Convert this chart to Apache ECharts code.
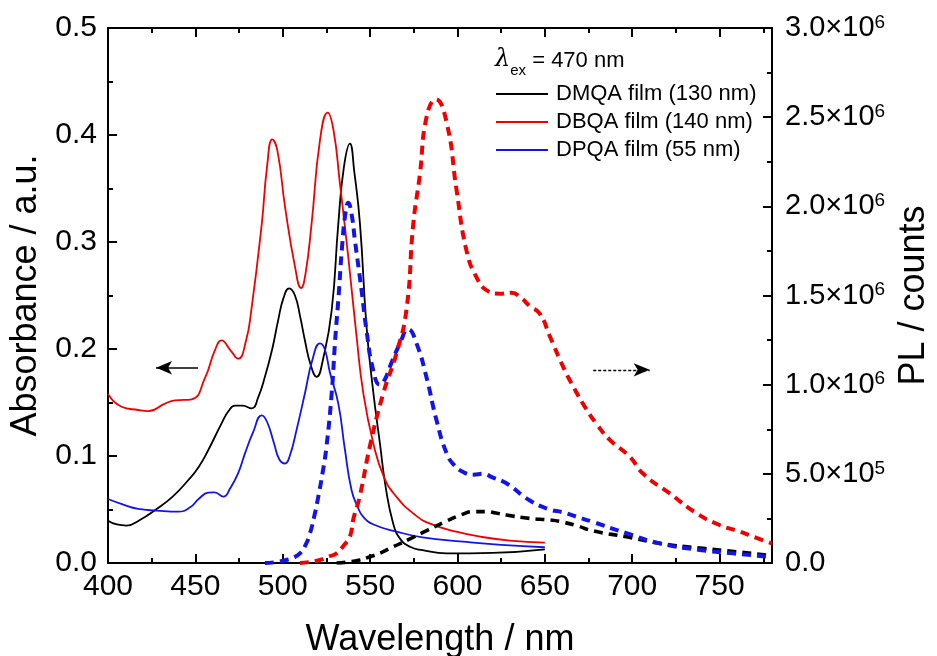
<!DOCTYPE html>
<html>
<head>
<meta charset="utf-8">
<script src="https://cdn.jsdelivr.net/npm/echarts@6/dist/echarts.min.js"></script>
<style>
  html, body { margin: 0; padding: 0; background: #fff; }
  #chart { width: 937px; height: 656px; }
</style>
</head>
<body>
<div id="chart"></div>
<script>
// Absorption spectra of the films (left axis, a.u.)
const dmqaAbsNm = [400, 405, 410.7, 418, 427, 437, 446, 452, 457.4, 465, 469, 472.7, 477, 482.2, 486, 489.8, 494, 497.4, 500.5, 503.7, 507, 510, 512.7, 516, 519.4, 523, 528, 531.8, 535, 538.4, 541, 544.2, 548, 551.8, 555.6, 559, 563.2, 567, 572.8, 580, 593.8, 620, 650];
const dmqaAbs   = [0.0395, 0.036, 0.035, 0.040, 0.0495, 0.062, 0.0776, 0.090, 0.1056, 0.1305, 0.142, 0.147, 0.147, 0.1445, 0.155, 0.174, 0.200, 0.227, 0.248, 0.2567, 0.250, 0.230, 0.208, 0.185, 0.174, 0.190, 0.236, 0.317, 0.370, 0.392, 0.365, 0.317, 0.220, 0.160, 0.112, 0.070, 0.037, 0.023, 0.0152, 0.012, 0.009, 0.0095, 0.0128];

const dbqaAbsNm = [400, 407.8, 417.3, 423, 432.6, 438.3, 447.9, 455.5, 461.2, 465, 470, 474.5, 479, 482, 488, 491, 494, 497, 501.3, 507, 510.5, 513, 516.5, 521.3, 525.7, 529, 532.7, 537.5, 542.3, 546, 551.8, 558, 565, 575, 584, 600, 613, 630, 650];
const dbqaAbs   = [0.158, 0.146, 0.143, 0.142, 0.149, 0.152, 0.153, 0.173, 0.199, 0.208, 0.199, 0.191, 0.208, 0.236, 0.317, 0.370, 0.396, 0.385, 0.333, 0.277, 0.257, 0.270, 0.317, 0.395, 0.421, 0.405, 0.355, 0.286, 0.211, 0.160, 0.112, 0.080, 0.062, 0.046, 0.037, 0.029, 0.0246, 0.021, 0.019];

const dpqaAbsNm = [400, 408, 417.3, 428, 440.2, 447, 452, 457.4, 461, 466, 470, 474.5, 478.4, 483, 488, 491, 495, 498, 501.3, 504, 508, 512.7, 517, 521.3, 524, 527, 531.8, 535.5, 539.4, 543, 546, 552, 565.2, 580, 603.3, 625, 650];
const dpqaAbs   = [0.0598, 0.055, 0.0505, 0.049, 0.048, 0.052, 0.060, 0.0657, 0.066, 0.062, 0.070, 0.084, 0.1025, 0.122, 0.138, 0.132, 0.112, 0.097, 0.093, 0.100, 0.125, 0.1586, 0.190, 0.2053, 0.200, 0.178, 0.149, 0.107, 0.068, 0.052, 0.0433, 0.036, 0.0293, 0.024, 0.020, 0.017, 0.0147];

// Photoluminescence spectra, excitation at 470 nm (right axis, counts)
const dmqaPlNm = [530.8, 537, 544, 550, 555.6, 563, 572.8, 583, 593.8, 602, 609, 616.6, 622, 628, 641.4, 652.9, 660, 668, 677.6, 696.7, 715.8, 740.5, 759.6, 776.8, 780];
const dmqaPl   = [0, 5e3, 1.7e4, 3.5e4, 5.5e4, 9e4, 1.35e5, 1.85e5, 2.35e5, 2.7e5, 2.88e5, 2.88e5, 2.8e5, 2.69e5, 2.5e5, 2.41e5, 2.3e5, 2.1e5, 1.8e5, 1.47e5, 1.1e5, 8.2e4, 6.3e4, 4.5e4, 4.2e4];

const dbqaPlNm = [509.8, 515, 521.3, 526, 530.8, 535, 538.4, 540.5, 544, 550, 557.5, 565.2, 570.8, 574.7, 578.5, 582.3, 587.6, 593.8, 599.5, 605.2, 611, 616.6, 624.3, 631, 636, 641.4, 647, 652.9, 660.5, 666.2, 673.9, 679.6, 687.2, 698.6, 706.3, 721.5, 736.8, 750, 761.6, 770, 780];
const dbqaPl   = [0, 5e3, 1.7e4, 3.5e4, 5.4e4, 1.0e5, 1.47e5, 2.5e5, 3.7e5, 6.6e5, 9.5e5, 1.18e6, 1.42e6, 1.9e6, 2.18e6, 2.5e6, 2.6e6, 2.47e6, 2.09e6, 1.75e6, 1.6e6, 1.53e6, 1.51e6, 1.515e6, 1.49e6, 1.44e6, 1.4e6, 1.27e6, 1.1e6, 9.9e5, 8.6e5, 7.8e5, 6.9e5, 5.96e5, 5.0e5, 3.9e5, 2.79e5, 2.13e5, 1.76e5, 1.45e5, 1.1e5];

const dpqaPlNm = [489.8, 496, 502, 506, 509.8, 513, 515.6, 518, 520.3, 522.7, 525, 528, 530, 532, 534, 536, 537.5, 539.5, 541.3, 545.1, 548, 551.8, 555.6, 558.5, 561.3, 567, 571.8, 576.6, 582.3, 588, 593.8, 598, 603.3, 609, 614.7, 620, 628, 641.4, 652.9, 660, 668, 677.6, 696.7, 715.8, 738.7, 757.7, 780];
const dpqaPl   = [0, 5e3, 1.7e4, 3e4, 5.4e4, 1.0e5, 1.67e5, 2.6e5, 3.7e5, 5.0e5, 6.5e5, 9.5e5, 1.25e6, 1.5e6, 1.78e6, 1.97e6, 2.02e6, 1.95e6, 1.81e6, 1.53e6, 1.3e6, 1.08e6, 1.0e6, 1.03e6, 1.1e6, 1.23e6, 1.31e6, 1.23e6, 1.04e6, 8.0e5, 6.15e5, 5.5e5, 5.1e5, 4.95e5, 5.0e5, 4.8e5, 4.47e5, 3.5e5, 3.0e5, 2.85e5, 2.6e5, 2.3e5, 1.67e5, 1.1e5, 7.3e4, 5.4e4, 3.3e4];

// Axis ticks
const xMajorTicks = [400, 450, 500, 550, 600, 650, 700, 750];
const xMinorTicks = [425, 475, 525, 575, 625, 675, 725, 775];

const seriesNames = ['DMQA film (130 nm)', 'DBQA film (140 nm)', 'DPQA film (55 nm)'];
const excitationText = '= 470 nm';

const RED = '#f00000';
const BLUE = '#1414e6';
const BLACK = '#000000';
const FONT = 'Liberation Sans, Arial, sans-serif';
const SMOOTH = 0.5;

function zip(xs, ys) { return xs.map((x, i) => [x, ys[i]]); }

function plLabel(v) {
  if (v === 0) return '{b|0.0}';
  const exp = Math.floor(Math.log10(v) + 1e-9);
  const mant = (v / Math.pow(10, exp)).toFixed(1);
  return '{b|' + mant + '×10}{s|' + exp + '}';
}

const axisLineStyle = { color: '#000', width: 2 };

function xAxisBase(pos, showLabels) {
  return {
    type: 'value', position: pos, min: 400, max: 780, interval: 50,
    axisLine: { show: true, onZero: false, lineStyle: axisLineStyle },
    axisTick: { show: true, inside: true, length: 9, lineStyle: { width: 2, color: '#000' }, customValues: xMajorTicks },
    minorTick: { show: false },
    splitLine: { show: false },
    axisLabel: { show: showLabels, margin: 9, fontSize: 30, color: '#000', fontFamily: FONT, customValues: xMajorTicks }
  };
}
function xAxisMinor(pos) {
  return {
    type: 'value', position: pos, min: 400, max: 780, interval: 50,
    axisLine: { show: false, onZero: false },
    axisTick: { show: true, inside: true, length: 5, lineStyle: { width: 2, color: '#000' }, customValues: xMinorTicks },
    splitLine: { show: false },
    axisLabel: { show: false }
  };
}

const xBottom = xAxisBase('bottom', true);
xBottom.name = 'Wavelength / nm';
xBottom.nameLocation = 'middle';
xBottom.nameGap = 59;
xBottom.nameTextStyle = { fontSize: 36, color: '#000', fontFamily: FONT };

function absSeries(name, xs, ys, color, extra) {
  return Object.assign({
    name: name, type: 'line', xAxisIndex: 0, yAxisIndex: 0,
    data: zip(xs, ys), showSymbol: false, symbol: 'none', smooth: SMOOTH,
    lineStyle: { color: color, width: 1.8 }, itemStyle: { color: color }
  }, extra || {});
}
function plSeries(name, xs, ys, color, width) {
  return {
    name: name, type: 'line', xAxisIndex: 0, yAxisIndex: 1,
    data: zip(xs, ys), showSymbol: false, symbol: 'none', smooth: SMOOTH,
    lineStyle: { color: color, width: width, type: [9, 6] }, itemStyle: { color: color }
  };
}

const chart = echarts.init(document.getElementById('chart'), null, { renderer: 'canvas' });

chart.setOption({
  animation: false,
  backgroundColor: '#fff',
  grid: { left: 108, right: 165, top: 28, bottom: 93, containLabel: false, outerBoundsMode: 'none' },
  xAxis: [xBottom, xAxisBase('top', false), xAxisMinor('bottom'), xAxisMinor('top')],
  yAxis: [
    {
      type: 'value', position: 'left', min: 0, max: 0.5, interval: 0.1,
      name: 'Absorbance / a.u.', nameLocation: 'middle', nameGap: 60, nameRotate: 90,
      nameTextStyle: { fontSize: 36, color: '#000', fontFamily: FONT },
      axisLine: { show: true, onZero: false, lineStyle: axisLineStyle },
      axisTick: { show: true, inside: true, length: 9, lineStyle: { width: 2, color: '#000' } },
      minorTick: { show: true, splitNumber: 2, length: 5, lineStyle: { width: 2, color: '#000' } },
      splitLine: { show: false }, minorSplitLine: { show: false },
      axisLabel: { margin: 11, fontSize: 30, color: '#000', fontFamily: FONT, formatter: v => v.toFixed(1) }
    },
    {
      type: 'value', position: 'right', min: 0, max: 3e6, interval: 5e5,
      name: 'PL / counts', nameLocation: 'middle', nameGap: 122, nameRotate: 90,
      nameTextStyle: { fontSize: 36, color: '#000', fontFamily: FONT },
      axisLine: { show: true, onZero: false, lineStyle: axisLineStyle },
      axisTick: { show: true, inside: true, length: 9, lineStyle: { width: 2, color: '#000' } },
      minorTick: { show: true, splitNumber: 2, length: 5, lineStyle: { width: 2, color: '#000' } },
      splitLine: { show: false }, minorSplitLine: { show: false },
      axisLabel: {
        margin: 13, color: '#000', fontFamily: FONT, formatter: plLabel,
        rich: {
          b: { fontSize: 29, fontFamily: FONT, color: '#000', lineHeight: 30 },
          s: { fontSize: 19, fontFamily: FONT, color: '#000', lineHeight: 30, verticalAlign: 'top' }
        }
      }
    }
  ],
  legend: {
    data: seriesNames,
    orient: 'vertical', left: 496, top: 82, padding: 0,
    itemWidth: 52, itemHeight: 2, itemGap: 4,
    icon: 'rect',
    textStyle: { fontSize: 22, lineHeight: 24, color: '#000', fontFamily: FONT, padding: [0, 0, 0, 3] },
    selectedMode: false
  },
  graphic: [
    {
      type: 'text', left: 495, top: 48,
      style: {
        text: '{l|λ}{sub|ex}{t| ' + excitationText + '}',
        rich: {
          l: { fontSize: 24, fontStyle: 'italic', fontFamily: 'DejaVu Serif, serif', fill: '#000', lineHeight: 30, verticalAlign: 'bottom' },
          sub: { fontSize: 15, fontFamily: FONT, fill: '#000', lineHeight: 30, verticalAlign: 'bottom', padding: [0, 0, -6, 0] },
          t: { fontSize: 22, fontFamily: FONT, fill: '#000', lineHeight: 30, verticalAlign: 'bottom' }
        }
      }
    }
  ],
  series: [
    absSeries(seriesNames[0], dmqaAbsNm, dmqaAbs, BLACK, {
      markLine: {
        silent: true, symbol: ['arrow', 'none'], symbolSize: [10, 16],
        label: { show: false },
        lineStyle: { color: '#000', width: 1.6, type: 'solid' },
        data: [[{ coord: [427.5, 0.1825] }, { coord: [451.5, 0.1825] }]]
      }
    }),
    absSeries(seriesNames[1], dbqaAbsNm, dbqaAbs, RED, {
      markLine: {
        silent: true, symbol: ['none', 'arrow'], symbolSize: [10, 16],
        label: { show: false },
        lineStyle: { color: '#000', width: 1.4, type: [3, 2] },
        data: [[{ coord: [677.7, 0.1805] }, { coord: [710, 0.1805] }]]
      }
    }),
    absSeries(seriesNames[2], dpqaAbsNm, dpqaAbs, BLUE),
    plSeries('DMQA PL', dmqaPlNm, dmqaPl, BLACK, 3.6),
    plSeries('DPQA PL', dpqaPlNm, dpqaPl, BLUE, 4),
    plSeries('DBQA PL', dbqaPlNm, dbqaPl, RED, 4)
  ]
});
</script>
</body>
</html>
